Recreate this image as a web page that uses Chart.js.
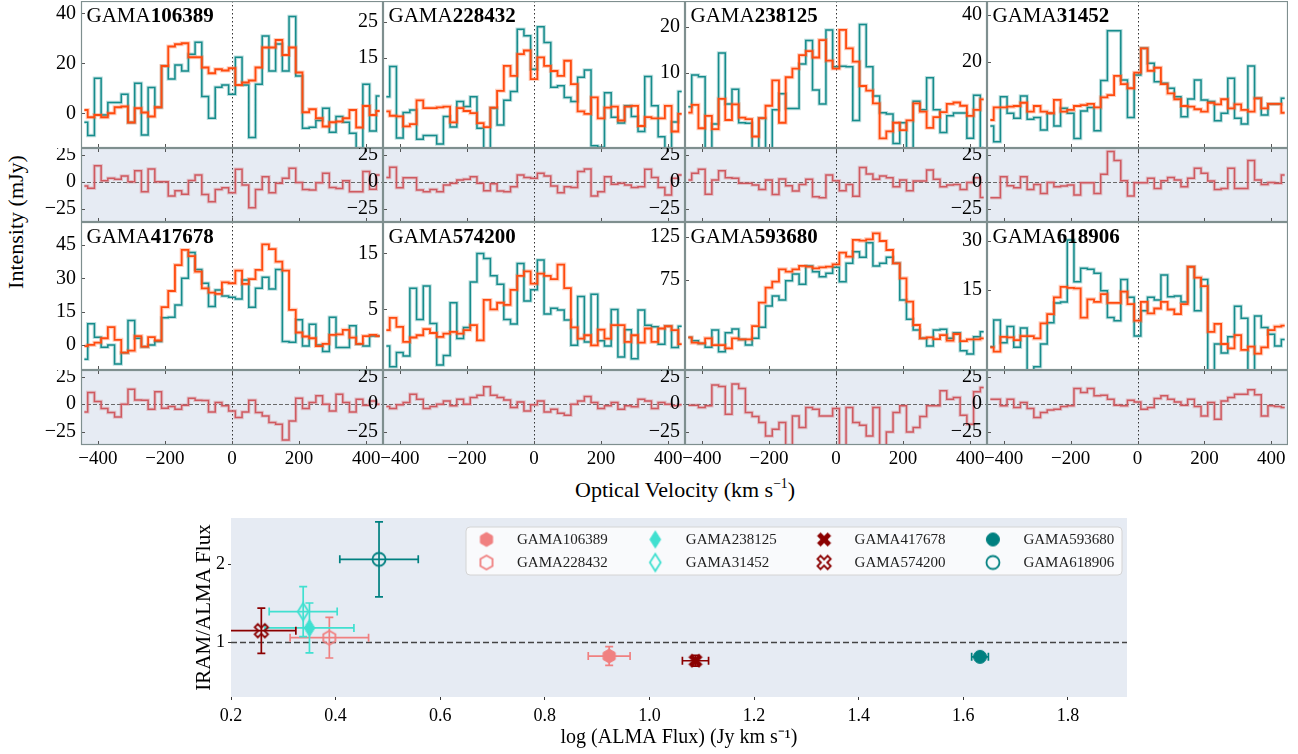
<!DOCTYPE html>
<html>
<head>
<meta charset="utf-8">
<title>IRAM vs ALMA spectra</title>
<script src="https://cdn.jsdelivr.net/npm/chart.js@4.4.1/dist/chart.umd.min.js"></script>
<style>
  html, body { margin: 0; padding: 0; background: #fff; }
  body { position: relative; width: 1298px; height: 754px; overflow: hidden; font-family: 'Liberation Serif', 'Times New Roman', serif; }
  .box { position: absolute; }
  .axis-title { position: absolute; font-size: 22px; white-space: nowrap; transform: translate(-50%, -50%); line-height: 1; }
  .axis-title sup { font-size: 0.62em; }
  #ytitle { transform: translate(-50%, -50%) rotate(-90deg); }
</style>
</head>
<body>
<div class="axis-title" id="ytitle" style="left:16px; top:222px;">Intensity (mJy)</div>
<div class="axis-title" id="xtitle" style="left:685px; top:489px;">Optical Velocity (km s<sup>&minus;1</sup>)</div>
<script>
// channel centres (km/s), shared by every spectrum
const velocity = [-440, -420, -400, -380, -360, -340, -320, -300, -280, -260, -240, -220, -200, -180, -160,
  -140, -120, -100, -80, -60, -40, -20, 0, 20, 40, 60, 80, 100, 120, 140, 160, 180, 200, 220, 240,
  260, 280, 300, 320, 340, 360, 380, 400, 420, 440];
const velocityTicks = [-400, -200, 0, 200, 400];
const residTicks = [-25, 0, 25];

// GAMA106389
const iram106389 = [-3.6, -8.9, 14.0, -0.7, 4.3, 4.3, 7.6, -3.7, 12.0, -8.7, 10.3, 2.3, 18.9, 13.7, 19.3, 16.9, 23.6, 28.4, 6.7, -2.0, 10.4, 11.3, 7.6, 22.4, 11.3, -9.7, 11.6, 30.9, 16.9, 27.7, 16.9, 38.7, 14.9, -6.0, -5.6, -2.9, 2.0, -7.6, -1.3, -3.6, -8.0, -14.0, 11.6, -7.1, 6.9];
const alma106389 = [1.3, -1.6, -0.7, -1.6, 0, 2.4, 2.7, -3.7, 2.0, 0.3, -1.3, 2.4, 18.9, 26.7, 27.6, 28.0, 22.4, 22.4, 18.3, 16.0, 17.6, 17.1, 18.0, 11.3, 12.3, 13.1, 18.3, 26.3, 26.3, 29.3, 23.3, 26.3, 16.3, 0.4, 1.6, -2.0, -5.3, -3.6, -3.3, -2.0, 1.3, -5.7, 2.9, -0.7, 0.9];
const resid106389 = [-4, -6, 14.8, 0.9, 3.1, 2.2, 5.2, 0, 10.2, -9.3, 11.7, 0, 0, -13, -8.3, -11.4, 1.2, 6.2, -11.7, -18.5, -7.1, -5.6, -10.2, 11.4, -3.1, -23.8, -7.1, 4.6, -10.2, -1.5, 3.1, 12.3, -0.6, -7.1, -7.7, -0.9, 7.7, -5.2, -6.2, 0.9, -9.3, -9.3, 9.3, -6.8, 6.2];
const ticks106389 = [0, 20, 40];

// GAMA228432
const iram228432 = [4.5, 12.7, -6.8, 0.2, 0.9, -7.1, -6.1, -6.1, -8.4, -0.9, -3.8, 3.2, 1.8, 4.5, -4.1, -10, 1.4, -3.2, 3.5, 5.9, 22.9, 21.1, 12, 23.6, 19.3, 7.1, 7.5, 4.3, 3.2, 9.8, 11.8, -8.9, -9.3, 5.6, -1.1, -2.7, 2, -0.9, -5, 10, 2, -6.4, -9.5, -2.4, 5.9];
const alma228432 = [0.5, -0.7, -0.9, -3.6, -3, 3.5, 1.4, 1.4, 1.6, 1.8, -2.5, 1.4, 0.6, 0, -2.7, -3.8, 1.5, 6.1, 12.9, 10.2, 16.1, 17.1, 9.3, 15.2, 12.9, 11.5, 10.2, 14.3, 7.9, 0.5, -0.2, 4.3, -1.4, 1.5, 1.8, -2, 1.8, 2, -3.5, -1.1, -1.4, -1.4, 2, -5, -0.2];
const resid228432 = [4, 13.3, -5.6, 3.7, 3.7, -7.7, -9.3, -7.1, -9.3, -3.1, -1.5, 1.5, 2.2, 4.6, -1.5, -8.3, -1.9, -8.6, -9.3, -4.6, 6.2, 4, 3.1, 7.7, 5.2, -4, -10.2, -4.6, -5.2, 9.3, 11.7, -13, -9.3, 4.6, -2.2, -1.5, -3.1, -5.2, -4.6, 11.4, 4, -5.2, -12.3, 3.1, 6.2];
const ticks228432 = [15, 25];

// GAMA238125
const iram238125 = [2.6, 9.5, 9.1, -6.8, -1.2, 14.3, 3.2, 6.4, -0.9, -1, -6.8, 0.1, -6.8, 1.9, 5.4, 2.2, 2.2, 11.9, 17, 6.2, 3.2, 19.3, 11.3, 11.4, 11.3, -0.4, 20.5, 11.3, 4.9, 1.3, 1, -5.4, -0.9, -6.8, 3.8, 1.9, 8.9, 1.9, -3, 0.6, 1.2, 1.2, -4.3, 5.1, -6.4];
const alma238125 = [1.3, 3, -2.1, 0.6, -2.3, 4.3, -0.3, 3.1, 0.2, -0.1, -3.9, 0.1, 2.8, 8.3, -0.9, 9, 10.9, 13.8, 14.7, 13.3, 17.1, 12.6, 10.9, 19.3, 15.3, 12.4, 7.1, 6.1, 3.3, -4.3, -2.8, -0.9, -2.5, -0.4, 3.3, 1.5, -2, 0.3, 1.4, 3.2, 3.5, 2.8, 0.6, 1.9, 4.2];
const resid238125 = [1.5, 7.7, 11.4, -11.4, 1.5, 10.2, 3.7, 3.1, -1.5, -1.5, -3.1, -7.1, 1.5, -11.7, 2.5, -3.7, -8.6, -2.5, 2.2, -13.9, -14.8, 6.2, 0.9, -8.3, -2.5, -13.3, 13, 7.1, 2.2, 5.2, 3.7, -4.6, 1.5, -8.3, 0.6, 0.6, 10.8, 2.2, -4.6, -3.1, -2.5, -7.1, -0.6, 3.7, -14.5];
const ticks238125 = [10, 20];

// GAMA31452
const iram31452 = [-7.6, -14.3, 5, -2.1, -4.3, 5.3, -4.7, -3.9, -9.3, -2.1, -7.6, 0, -2.1, -12.9, -1.1, 0.4, -9.6, 11.9, 33.3, 33.3, 12.1, -3.9, 14.3, 25.7, 19.3, 11.4, 10.7, 8.6, 5, -3.6, 4, 12.1, 3.6, 2.9, -5.3, -2.1, 12.9, -4.3, -6.7, 18.1, 4.3, -2.9, 1.9, 1.9, 4.3];
const alma31452 = [-5, 0.4, 0.4, 0.7, 1, 2.4, -1.4, 1, -1.4, -2.1, 3.6, -1.4, -0.7, 1, 1.4, 1.9, 0.4, 4.7, 5.7, 13.9, 10.4, 8.6, 15.3, 25.7, 16.1, 17.4, 10.4, 6.4, 3.9, 1, 0.7, -0.4, -1.4, 2.4, 1.7, 3.9, 0, 1.7, -0.7, -1.4, 4.3, 0, 1.9, 1.9, -1.9];
const resid31452 = [-14.8, -14.8, 4.6, -3.7, -5.6, 4.6, -7.1, -2.5, -10.8, -0.6, -4.6, -4, -3.1, -12.3, -0.9, -0.9, -10.8, 6.8, 27.8, 19.4, 0.9, -13, -0.9, -0.9, 3.1, -6.2, 0.9, 4, 1.5, -4.6, 3.1, 12.3, 7.7, 0.6, -7.1, -6.2, 12.3, -6.2, -6.2, 19.4, 1.5, -2.5, -0.6, -1.5, 6.2];
const ticks31452 = [20, 40];

// GAMA417678
const iram417678 = [-6.5, 9.5, 3.5, -1.1, 0, -8.6, -3.5, 11, 3, -0.8, 0, 1.5, 12.3, 12.5, 18, 30, 41.6, 34, 27.8, 17.3, 24.8, 22, 21.5, 20.7, 29.3, 17, 25.5, 30.5, 25.2, 34, 1.5, 1.2, 11.3, -0.5, 9.3, 0, -3, 12.5, -1.2, -1.2, 8.6, 0.3, -0.5, 4, 4];
const alma417678 = [-0.5, 0, 1, 3, 8, 2.3, -3.5, -2.6, 4, -0.8, 3.5, 2, 17, 24.3, 36, 42.8, 40, 33, 25.5, 23.6, 23, 28.2, 27.8, 33.5, 27.5, 29.7, 33.8, 45.3, 43.2, 37.5, 33.5, 15.8, 5.6, 3.8, 3, -0.5, 0.5, 4.5, 4.8, 6.8, 3.3, 0.5, 4, 4.5, 4];
const resid417678 = [-7, 10.6, 2.4, -3.9, -7.6, -11.5, 0, 13.6, 3.9, 3.6, -4.5, 11.2, -3.6, -2.1, -4.5, -0.9, 5.5, 3.6, 3.3, -7, 1.5, -1.5, -6.1, -12.1, -7, 3.6, -7.6, -10.6, -16.7, -18.2, -32.4, -15.2, 5.5, -3.9, 1.5, 7.6, 0, -6.1, 9.1, 1.5, -7, 4.5, -0.9, 3, 0];
const ticks417678 = [0, 15, 30, 45];

// GAMA574200
const iram574200 = [-1.5, -5.2, -2.7, -3.3, 8.8, 3.2, 9.2, 2.5, -4.9, -3.2, 6.2, -0.2, 1.8, 9.9, 15, 14.1, 11, 9.5, 3.2, 2.4, 13.2, 6.5, 8.5, 13.8, 4.2, 5.2, 4.9, 3.1, -1.4, 7.3, -0.8, 7.7, -0.6, -1.5, 5, -3.5, 1.4, -3.8, 4.9, 2.2, 1.9, -1.2, 2, -1.8, 2];
const alma574200 = [1.3, 3.5, 1.9, -0.8, 0, 0.4, 1.5, 0.8, 0.1, 0.7, 1, 0.7, 1.3, 2.2, -0.5, 6.7, 5, 6.2, 5.8, 8.5, 11, 11.8, 9.6, 11.4, 11, 10.4, 13, 8.8, 1.8, -0.2, 0.4, -1.4, 1.4, -0.2, 2.2, 2.2, -0.8, 0.4, -0.9, 1.6, -0.8, 1.6, 2, 1.3, -1.2];
const resid574200 = [-2.1, -3.9, -0.6, 1.5, 9.1, 4.5, -3.9, -2.1, 0, 3, -1.5, 4.5, 0, 6.1, 8.2, 15.8, 8.2, 6.1, 3.9, -3, 2.1, -6.1, -0.6, 3, -7, -4.5, -8.2, -10, 0, 3, 7, 1.5, -3.9, -1.5, 1.5, -4.5, -1.5, -2.4, 4.5, 3, -3.9, 1.5, 0, -1.5, -0.6];
const ticks574200 = [5, 15];

// GAMA593680
const iram593680 = [8.8, 5, 1.9, -2.7, 17.3, -7.7, 14.2, 18.5, 6.5, 0, 7.7, 20.4, 45, 56.5, 51.9, 74.2, 81.9, 70, 91.2, 84.6, 78.8, 82.7, 89.6, 73.1, 94.2, 107.7, 101.2, 118.1, 91.2, 94.2, 101.2, 94.2, 51.9, 29.6, 17.3, 7.7, -1.2, 17.3, 18.1, 7.7, 14.2, -6.5, -10.4, 9.6, 15.4];
const alma593680 = [8.8, 2.7, 1.9, 7.7, 0, 0, -3.8, 7.7, 6.5, 6.5, 21.9, 48.8, 66.2, 73.1, 87.3, 84.6, 87.3, 91.2, 90.4, 88.5, 89.6, 90.4, 93.1, 106.5, 101.9, 121.2, 120.4, 121.9, 128.8, 120, 109.6, 94.2, 76.9, 50, 23.1, 7.7, 8.8, 6.9, 11.5, 5, 12.7, 4.6, 6.5, 6.5, 7.7];
const resid593680 = [-0.9, -0.9, -3, -1.5, 17.3, 16.1, -9.1, 18.2, 14.2, -7.6, -11.2, -16.7, -28.8, -22.7, -16.7, -37.3, -10.6, -21.2, -3, -4.5, -10.6, -10.6, -3.9, -37.9, -3, -16.7, -19.1, -28.8, -3, -37.9, -25.2, -7.6, -1.5, -25.2, -21.2, -11.2, -1.5, -1.5, 12.1, 4.5, 6.1, -10, -18.2, 11.2, 15.2];
const ticks593680 = [75, 125];

// GAMA618906
const iram618906 = [-2.2, 5.9, -1, 3.9, -2.4, 3.5, -9.8, -8.3, -1.4, 5.1, 11.1, 11.4, 30.2, 17.5, 21.6, 21.3, 20.1, 14.8, 6.7, 5.7, 18.2, 12.8, 1, 8.7, 12.8, 12, 19.6, 13, 13.2, 11.4, 22.1, 8.7, 18.2, -9.8, -1.4, -4.1, 0.8, 10.1, 6.4, -9.8, 7.1, 3.6, 1.6, -2, 0];
const alma618906 = [-2.4, -3.7, 0.8, 0.6, -0.2, 1, 1, 0.3, 4.9, 7.7, 12.8, 16, 15.7, 15.5, 6.6, 12.2, 11.4, 13.8, 11.1, 11.1, 14.5, 10.7, 5.7, 11.4, 7.9, 9.4, 11.4, 9.1, 7.7, 10.7, 22.1, 18.8, 16.2, 2.3, 4.7, -1.4, -2.7, 1.3, -3.2, -2.2, -4.3, -2.4, 2.8, 3.9, 4.2];
const resid618906 = [4.5, 4.5, -1.5, 4.5, -3, 1.5, -3.9, -12.1, -7.6, -5.2, -4.5, -2.1, -1.5, 14.2, 10.6, 14.2, 7.6, 8.2, 4.5, -0.9, -1.5, 3.6, 2.1, -4.5, -3, 5.2, 7.6, 4.5, 2.1, -0.9, 4.5, -2.1, -10.6, 1.5, -13.6, 3, 6.1, 9.1, 9.1, 13, 8.5, -10.6, -1.5, -2.1, -3];
const ticks618906 = [15, 30];

// flux comparison (bottom panel)
const galaxies = ['GAMA106389', 'GAMA228432', 'GAMA238125', 'GAMA31452', 'GAMA417678', 'GAMA574200', 'GAMA593680', 'GAMA618906'];
const logAlmaFlux = [0.923, 0.388, 0.350, 0.338, 1.088, 0.258, 1.632, 0.483];
const logAlmaFluxErr = [0.040, 0.075, 0.085, 0.065, 0.025, 0.066, 0.016, 0.075];
const fluxRatio = [0.82, 1.055, 1.18, 1.39, 0.76, 1.145, 0.81, 2.06];
const fluxRatioErr = [0.12, 0.26, 0.32, 0.32, 0.07, 0.29, 0.05, 0.48];
const logFluxTicks = [0.2, 0.4, 0.6, 0.8, 1.0, 1.2, 1.4, 1.6, 1.8];
const ratioTicks = [1, 2];

Chart.defaults.font.family = "'Liberation Serif', 'Times New Roman', serif";
Chart.defaults.color = '#000';
Chart.defaults.animation = false;

const TEAL = '#168c8c', TEAL_GLOW = 'rgba(22,140,140,0.28)';
const ORANGE = '#ff4b0f', ORANGE_GLOW = 'rgba(255,95,40,0.3)';
const RESID = '#cf5a60', RESID_GLOW = 'rgba(207,90,96,0.28)';
const FRAME = '#7f8f8f';
const SHADE = '#e6ebf3';

const minus = v => String(v).replace('-', '\u2212');

function makeBox(left, top, width, height) {
    const div = document.createElement('div');
    div.className = 'box';
    div.style.left = left + 'px';
    div.style.top = top + 'px';
    div.style.width = width + 'px';
    div.style.height = height + 'px';
    const canvas = document.createElement('canvas');
    div.appendChild(canvas);
    document.body.appendChild(div);
    return canvas;
}

function stepLine(values, color, width, order) {
    return {
        data: velocity.map((v, i) => ({ x: v, y: values[i] })),
        borderColor: color,
        borderWidth: width,
        stepped: 'middle',
        pointRadius: 0,
        fill: false,
        order: order
    };
}

// background, zero lines, frame, inward ticks and panel name
const panelDeco = {
    id: 'panelDeco',
    beforeDatasetsDraw(chart, args, o) {
        const { ctx, chartArea: a, scales } = chart;
        ctx.save();
        if (o.bg) {
            ctx.fillStyle = o.bg;
            ctx.fillRect(a.left, a.top, a.width, a.height);
        }
        const x0 = Math.round(scales.x.getPixelForValue(0)) + 0.5;
        ctx.strokeStyle = '#333';
        ctx.lineWidth = 1;
        ctx.setLineDash([1.5, 2.5]);
        ctx.beginPath();
        ctx.moveTo(x0, a.top);
        ctx.lineTo(x0, a.bottom);
        ctx.stroke();
        if (o.zeroLine) {
            const y0 = Math.round(scales.y.getPixelForValue(0)) + 0.5;
            ctx.strokeStyle = '#6a6a6a';
            ctx.setLineDash([4, 2]);
            ctx.beginPath();
            ctx.moveTo(a.left, y0);
            ctx.lineTo(a.right, y0);
            ctx.stroke();
        }
        ctx.restore();
    },
    afterDatasetsDraw(chart, args, o) {
        const { ctx, chartArea: a, scales } = chart;
        ctx.save();
        ctx.strokeStyle = '#555';
        ctx.lineWidth = 1;
        ctx.beginPath();
        velocityTicks.forEach(v => {
            const px = Math.round(scales.x.getPixelForValue(v)) + 0.5;
            if (o.tickBottom) { ctx.moveTo(px, a.bottom); ctx.lineTo(px, a.bottom - 4); }
            if (o.tickTop) { ctx.moveTo(px, a.top); ctx.lineTo(px, a.top + 4); }
        });
        (o.yTicks || []).forEach(v => {
            const py = Math.round(scales.y.getPixelForValue(v)) + 0.5;
            ctx.moveTo(a.left, py);
            ctx.lineTo(a.left + 4, py);
        });
        ctx.stroke();
        ctx.strokeStyle = FRAME;
        ctx.lineWidth = 1.2;
        ctx.strokeRect(a.left + 0.5, a.top + 0.5, a.width - 1, a.height - 1);
        if (o.title) {
            ctx.fillStyle = '#000';
            ctx.textBaseline = 'alphabetic';
            ctx.font = "21px 'Liberation Serif'";
            ctx.fillText('GAMA', a.left + 5.5, a.top + 20.5);
            const w = ctx.measureText('GAMA').width;
            ctx.font = "bold 21px 'Liberation Serif'";
            ctx.fillText(o.title, a.left + 5.5 + w, a.top + 20.5);
        }
        ctx.restore();
    }
};

function spectrumChart(canvas, cfg) {
    return new Chart(canvas, {
        type: 'line',
        data: { datasets: cfg.datasets },
        options: {
            responsive: true,
            maintainAspectRatio: false,
            animation: false,
            events: [],
            layout: { padding: 0 },
            plugins: {
                legend: { display: false },
                tooltip: { enabled: false },
                panelDeco: cfg.deco
            },
            scales: {
                x: {
                    type: 'linear', min: -450, max: 450,
                    display: cfg.showX,
                    grid: { display: false, drawTicks: false },
                    border: { display: false },
                    ticks: { font: { size: 19 }, padding: 3, autoSkip: false, maxRotation: 0, minRotation: 0, callback: minus },
                    afterBuildTicks: s => { s.ticks = velocityTicks.map(v => ({ value: v })); },
                    afterFit: s => { s.height = cfg.showX ? 32 : 0; s.paddingLeft = 0; s.paddingRight = 0; }
                },
                y: {
                    type: 'linear', min: cfg.min, max: cfg.max,
                    grid: { display: false, drawTicks: false },
                    border: { display: false },
                    ticks: { font: { size: 20 }, padding: 5, autoSkip: false, callback: minus },
                    afterBuildTicks: s => { s.ticks = cfg.yTicks.map(v => ({ value: v })); },
                    afterFit: s => { s.width = 45; s.paddingTop = 0; s.paddingBottom = 0; }
                }
            }
        },
        plugins: [panelDeco]
    });
}

const panels = [
    { name: '106389', iram: iram106389, alma: alma106389, resid: resid106389, ticks: ticks106389, min: -13.9, max: 44.9 },
    { name: '228432', iram: iram228432, alma: alma228432, resid: resid228432, ticks: ticks228432, min: -9.5, max: 30.6 },
    { name: '238125', iram: iram238125, alma: alma238125, resid: resid238125, ticks: ticks238125, min: -6.4, max: 25.6 },
    { name: '31452', iram: iram31452, alma: alma31452, resid: resid31452, ticks: ticks31452, min: -17, max: 46 },
    { name: '417678', iram: iram417678, alma: alma417678, resid: resid417678, ticks: ticks417678, min: -11.3, max: 55.4 },
    { name: '574200', iram: iram574200, alma: alma574200, resid: resid574200, ticks: ticks574200, min: -5.8, max: 20.6 },
    { name: '593680', iram: iram593680, alma: alma593680, resid: resid593680, ticks: ticks593680, min: -28.8, max: 141.9 },
    { name: '618906', iram: iram618906, alma: alma618906, resid: resid618906, ticks: ticks618906, min: -9.3, max: 35.7 }
];

const colLeft = [81, 383, 685, 987];
const colWidth = [302, 302, 302, 301];
const rowMain = [[1, 148], [222, 370]];
const rowResid = [[148, 222], [370, 445]];

panels.forEach((p, i) => {
    const col = i % 4, row = Math.floor(i / 4);
    const left = colLeft[col] - 45, width = colWidth[col] + 45;

    const mainCanvas = makeBox(left, rowMain[row][0], width, rowMain[row][1] - rowMain[row][0]);
    spectrumChart(mainCanvas, {
        datasets: [
            stepLine(p.alma, ORANGE, 1.8, 1),
            stepLine(p.alma, ORANGE_GLOW, 4, 2),
            stepLine(p.iram, TEAL, 1.5, 3),
            stepLine(p.iram, TEAL_GLOW, 3.5, 4)
        ],
        min: p.min, max: p.max, yTicks: p.ticks, showX: false,
        deco: { title: p.name, yTicks: p.ticks, tickBottom: true }
    });

    const resH = rowResid[row][1] - rowResid[row][0];
    const residCanvas = makeBox(left, rowResid[row][0], width, resH + (row === 1 ? 32 : 0));
    spectrumChart(residCanvas, {
        datasets: [
            stepLine(p.resid, RESID, 1.5, 1),
            stepLine(p.resid, RESID_GLOW, 3.5, 2)
        ],
        min: -37, max: 31, yTicks: residTicks, showX: row === 1,
        deco: { bg: SHADE, zeroLine: true, yTicks: residTicks, tickTop: true, tickBottom: true }
    });
});

// --- flux ratio panel ---
const TEAL_PT = '#008080', CORAL = '#f08080', TURQ = '#40e0d0', DARKRED = '#8b0000';
const markerSpec = [
    ['hexagon', CORAL, true], ['hexagon', CORAL, false],
    ['diamond', TURQ, true], ['diamond', TURQ, false],
    ['x', DARKRED, true], ['x', DARKRED, false],
    ['circle', TEAL_PT, true], ['circle', TEAL_PT, false]
];

function markerCanvas(shape, color, filled) {
    const size = 22;
    const c = document.createElement('canvas');
    c.width = size; c.height = size;
    const g = c.getContext('2d');
    g.translate(size / 2, size / 2);
    g.beginPath();
    if (shape === 'hexagon') {
        for (let k = 0; k < 6; k++) {
            const t = -Math.PI / 2 + k * Math.PI / 3;
            g.lineTo(7 * Math.cos(t), 7 * Math.sin(t));
        }
    } else if (shape === 'diamond') {
        g.moveTo(0, -8.5); g.lineTo(5.4, 0); g.lineTo(0, 8.5); g.lineTo(-5.4, 0);
    } else if (shape === 'x') {
        const w = 2.2, r = 7.2, k = Math.SQRT1_2;
        [[w, r], [w, w], [r, w], [r, -w], [w, -w], [w, -r], [-w, -r], [-w, -w], [-r, -w], [-r, w], [-w, w], [-w, r]]
            .forEach(([px, py]) => g.lineTo((px - py) * k, (px + py) * k));
    } else {
        g.arc(0, 0, 6.5, 0, Math.PI * 2);
    }
    g.closePath();
    if (filled) { g.fillStyle = color; g.fill(); }
    g.strokeStyle = color;
    g.lineWidth = filled ? 1 : 1.8;
    g.stroke();
    return c;
}

const markers = markerSpec.map(m => markerCanvas(m[0], m[1], m[2]));

const fluxDeco = {
    id: 'fluxDeco',
    beforeDraw(chart) {
        const { ctx, chartArea: a } = chart;
        ctx.save();
        ctx.fillStyle = SHADE;
        ctx.fillRect(a.left, a.top, a.width, a.height);
        ctx.restore();
    },
    beforeDatasetsDraw(chart) {
        const { ctx, chartArea: a, scales: { x, y } } = chart;
        ctx.save();
        ctx.beginPath();
        ctx.rect(a.left, a.top, a.width, a.height);
        ctx.clip();
        const y1 = Math.round(y.getPixelForValue(1)) + 0.5;
        ctx.strokeStyle = '#444';
        ctx.lineWidth = 1.5;
        ctx.setLineDash([6, 3]);
        ctx.beginPath();
        ctx.moveTo(a.left, y1);
        ctx.lineTo(a.right, y1);
        ctx.stroke();
        ctx.setLineDash([]);
        ctx.lineWidth = 1.7;
        galaxies.forEach((g, i) => {
            const px = x.getPixelForValue(logAlmaFlux[i]);
            const py = y.getPixelForValue(fluxRatio[i]);
            const xl = x.getPixelForValue(logAlmaFlux[i] - logAlmaFluxErr[i]);
            const xr = x.getPixelForValue(logAlmaFlux[i] + logAlmaFluxErr[i]);
            const yt = y.getPixelForValue(fluxRatio[i] + fluxRatioErr[i]);
            const yb = y.getPixelForValue(fluxRatio[i] - fluxRatioErr[i]);
            const cap = 4;
            ctx.strokeStyle = markerSpec[i][1];
            ctx.beginPath();
            ctx.moveTo(xl, py); ctx.lineTo(xr, py);
            ctx.moveTo(xl, py - cap); ctx.lineTo(xl, py + cap);
            ctx.moveTo(xr, py - cap); ctx.lineTo(xr, py + cap);
            ctx.moveTo(px, yt); ctx.lineTo(px, yb);
            ctx.moveTo(px - cap, yt); ctx.lineTo(px + cap, yt);
            ctx.moveTo(px - cap, yb); ctx.lineTo(px + cap, yb);
            ctx.stroke();
        });
        ctx.restore();
    },
    afterDatasetsDraw(chart) {
        const { ctx, chartArea: a } = chart;
        const bw = 656, bh = 48;
        const bx = a.right - 5 - bw, by = a.top + 9, r = 4;
        ctx.save();
        ctx.beginPath();
        ctx.moveTo(bx + r, by);
        ctx.arcTo(bx + bw, by, bx + bw, by + bh, r);
        ctx.arcTo(bx + bw, by + bh, bx, by + bh, r);
        ctx.arcTo(bx, by + bh, bx, by, r);
        ctx.arcTo(bx, by, bx + bw, by, r);
        ctx.closePath();
        ctx.fillStyle = 'rgba(255,255,255,0.75)';
        ctx.fill();
        ctx.strokeStyle = '#d4d4d4';
        ctx.lineWidth = 1;
        ctx.stroke();
        ctx.font = "15px 'Liberation Serif'";
        ctx.fillStyle = '#222';
        ctx.textBaseline = 'middle';
        galaxies.forEach((g, i) => {
            const col = Math.floor(i / 2), row = i % 2;
            const cx = bx + 20.5 + 168.8 * col;
            const cy = by + 12.5 + 23 * row;
            ctx.drawImage(markers[i], cx - 11, cy - 11);
            ctx.fillText(g, bx + 51 + 168.8 * col, cy + 1);
        });
        ctx.restore();
    }
};

const fluxCanvas = makeBox(188, 505, 952, 249);
new Chart(fluxCanvas, {
    type: 'scatter',
    data: {
        datasets: galaxies.map((g, i) => ({
            label: g,
            data: [{ x: logAlmaFlux[i], y: fluxRatio[i] }],
            pointStyle: markers[i],
            pointRadius: 7,
            borderWidth: 0
        }))
    },
    options: {
        responsive: true,
        maintainAspectRatio: false,
        animation: false,
        events: [],
        layout: { padding: { top: 13, right: 13, left: 0, bottom: 0 } },
        plugins: { legend: { display: false }, tooltip: { enabled: false } },
        scales: {
            x: {
                type: 'linear', min: 0.2, max: 1.913,
                grid: { drawOnChartArea: false, drawTicks: true, tickLength: 3, color: '#333' },
                border: { display: false },
                ticks: { font: { size: 18 }, padding: 5, autoSkip: false, maxRotation: 0, callback: v => v.toFixed(1) },
                title: { display: true, text: 'log (ALMA Flux) (Jy km s\u207B\u00B9)', font: { size: 20 }, padding: { top: 2, bottom: 4 } },
                afterBuildTicks: s => { s.ticks = logFluxTicks.map(v => ({ value: v })); },
                afterFit: s => { s.height = 57; s.paddingLeft = 0; s.paddingRight = 0; }
            },
            y: {
                type: 'linear', min: 0.295, max: 2.59,
                grid: { drawOnChartArea: false, drawTicks: true, tickLength: 3, color: '#333' },
                border: { display: false },
                ticks: { font: { size: 18 }, padding: 3, autoSkip: false, callback: v => String(v) },
                title: { display: true, text: 'IRAM/ALMA Flux', font: { size: 21 }, padding: { top: 4, bottom: 2 } },
                afterBuildTicks: s => { s.ticks = ratioTicks.map(v => ({ value: v })); },
                afterFit: s => { s.width = 43; s.paddingTop = 0; s.paddingBottom = 0; }
            }
        }
    },
    plugins: [fluxDeco]
});
</script>
</body>
</html>
